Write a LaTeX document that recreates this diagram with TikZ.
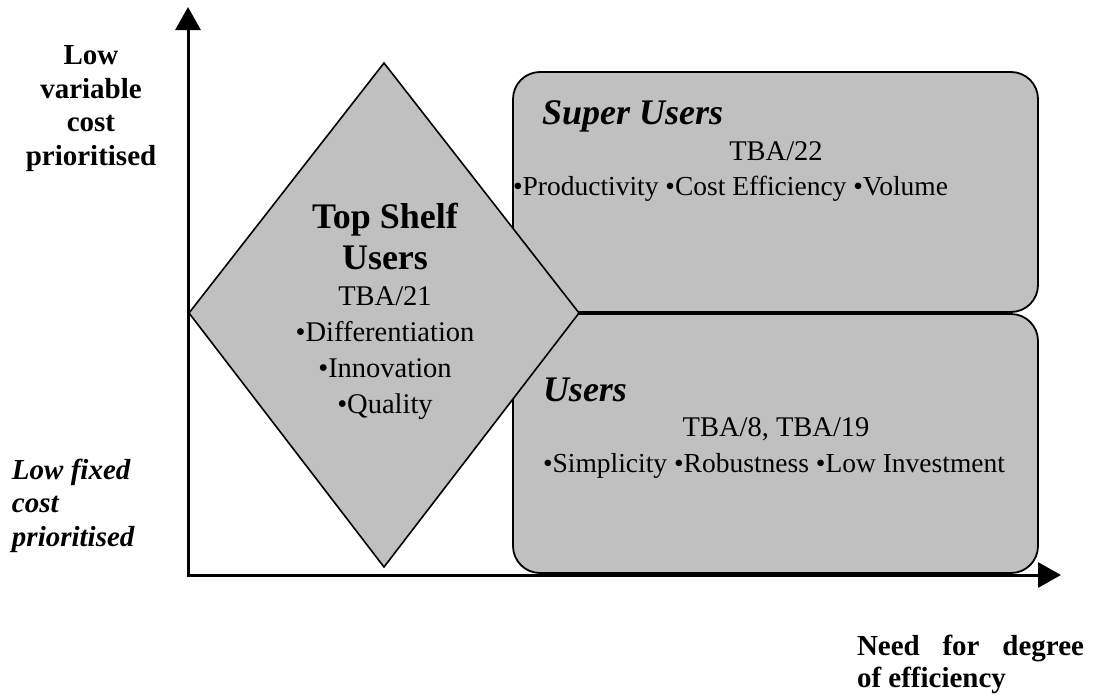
\documentclass[tikz,border=0pt]{standalone}
\usepackage{fontspec}
\setmainfont{Liberation Serif}
\usetikzlibrary{arrows.meta}
\definecolor{panelgray}{HTML}{C0C0C0}
\begin{document}
\begin{tikzpicture}[x=1pt,y=-1pt,
  axisline/.style={line width=3pt,
    {Triangle[length=23pt,width=25pt]}-{Triangle[length=23pt,width=25pt]}},
  panel/.style={draw=black, line width=1.8pt, fill=panelgray, rounded corners=27pt},
  rhomb/.style={draw=black, line width=1.6pt, fill=panelgray, line join=miter},
  txt/.style={inner sep=0pt, outer sep=0pt},
  body/.style={txt, font=\fontsize{28.5}{36}\selectfont},
  points/.style={txt, font=\fontsize{27.5}{36}\selectfont},
  boxhead/.style={txt, font=\fontsize{36}{41}\selectfont\bfseries\itshape},
  rhombhead/.style={txt, font=\fontsize{36}{41}\selectfont\bfseries},
  axislabel/.style={txt, font=\fontsize{29}{33.4}\selectfont\bfseries},
]
\useasboundingbox (0,0) rectangle (1093,699);

% quadrant panels
\draw[panel] (513,72) rectangle (1038,312);
\draw[panel] (513,314) rectangle (1038,573);

% the diamond sits on top of both panels
\coordinate (dtop) at (384,63);
\coordinate (dright) at (579,313);
\coordinate (dbottom) at (384,567);
\coordinate (dleft) at (189,313);
\draw[rhomb] (dtop) -- (dright) -- (dbottom) -- (dleft) -- cycle;

% axes
\coordinate (ytip) at (188,7);
\coordinate (xtip) at (1061,575);
\draw[axisline] (ytip) |- (xtip);

% axis labels (base anchor = baseline of the last line)
\node[axislabel, align=center, anchor=base] (vhigh) at (91,165)
  {Low\\variable\\cost\\prioritised};
\node[axislabel, font=\fontsize{29}{33.4}\selectfont\bfseries\itshape,
      align=left, anchor=base west] (vlow) at (12,546)
  {Low fixed\\cost\\prioritised};
\node[axislabel, font=\fontsize{29}{32}\selectfont\bfseries,
      align=left, anchor=base west] (hlabel) at (857,687)
  {\makebox[227pt][s]{Need for degree}\\of efficiency};

% diamond text
\node[rhombhead, align=center, anchor=base] (tshead) at (385,269) {Top Shelf\\Users};
\node[body, align=center, anchor=base] (tsbody) at (385,413)
  {TBA/21\\•Differentiation\\•Innovation\\•Quality};

% upper panel text
\node[boxhead, anchor=base west] (suhead) at (542,124) {Super Users};
\node[body, anchor=base] (suref) at (776,160) {TBA/22};
\node[points, anchor=base west] (supts) at (513,195)
  {•Productivity •Cost Efficiency •Volume};

% lower panel text
\node[boxhead, anchor=base west] (uhead) at (543,401) {Users};
\node[body, anchor=base] (uref) at (776,436) {TBA/8, TBA/19};
\node[points, anchor=base west] (upts) at (543,472)
  {•Simplicity •Robustness •Low Investment};
\end{tikzpicture}
\end{document}
